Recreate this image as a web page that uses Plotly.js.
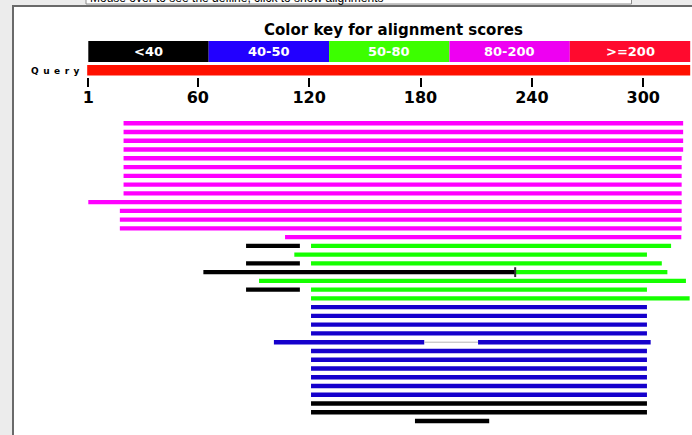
<!DOCTYPE html>
<html><head><meta charset="utf-8">
<script src="https://cdn.plot.ly/plotly-3.0.1.min.js"></script>
<style>html,body{margin:0;padding:0;background:#ececec;overflow:hidden}</style>
</head><body><div id="chart" style="width:692px;height:435px"></div>
<script>
// ---- data ----
const queryLength = 325;
const axisTicks = [1, 60, 120, 180, 240, 300];
const keyLabels = ['<40', '40-50', '50-80', '80-200', '>=200'];
const keyColors = ['#000000', '#2200ff', '#3cff00', '#ee00f2', '#ff0a2e'];
const barColors = ['#000000', '#1500cc', '#15ff00', '#ff00ff', '#ff0000'];
const queryColor = '#ff1000';

// each aligned segment: row, start, end, score class (index into keyLabels)
const hitRow   = [0, 1, 2, 3, 4, 5, 6, 7, 8, 9, 10, 11, 12, 13,
                  14, 14, 15, 16, 16, 17, 17, 18, 19, 19, 20,
                  21, 22, 23, 24, 25, 25, 26, 27, 28, 29, 30, 31,
                  32, 33, 34];
const hitStart = [20, 20, 20, 20, 20, 20, 20, 20, 20, 1, 18, 18, 18, 107,
                  86, 121, 112, 86, 121, 63, 231, 93, 86, 121, 121,
                  121, 121, 121, 121, 101, 211, 121, 121, 121, 121, 121, 121,
                  121, 121, 177];
const hitEnd   = [321.5, 321.5, 321.5, 321.5, 320.7, 320.7, 320.7, 320.7, 320.7, 320.7, 320.7, 320.7, 320.7, 320.5,
                  115, 315, 302, 115, 310, 231, 313, 323, 115, 302, 325,
                  302, 302, 302, 302, 182, 304, 302, 302, 302, 302, 302, 302,
                  302, 302, 217];
const hitClass = [3, 3, 3, 3, 3, 3, 3, 3, 3, 3, 3, 3, 3, 3,
                  0, 2, 2, 0, 2, 0, 2, 2, 0, 2, 2,
                  1, 1, 1, 1, 1, 1, 1, 1, 1, 1, 1, 1,
                  0, 0, 0];
// gap connector between two pieces of one hit
const gapRow = [25], gapStart = [182], gapEnd = [211];
// junction mark between two adjacent pieces
const joinRow = [17], joinPos = [231];

// ---- drawing ----
const W = 692, H = 435;
const py = p => 1 - p / H;
const FONT = 'DejaVu Sans, Verdana, sans-serif';

const traces = [];
keyLabels.forEach((lab, c) => {
  const idx = hitRow.map((r, i) => i).filter(i => hitClass[i] === c);
  if (!idx.length) return;
  traces.push({
    type: 'bar', orientation: 'h', name: lab,
    y: idx.map(i => hitRow[i]),
    base: idx.map(i => hitStart[i]),
    x: idx.map(i => hitEnd[i] - hitStart[i]),
    width: 0.5,
    marker: {color: barColors[c], line: {width: 0}},
    hoverinfo: 'skip'
  });
});
gapRow.forEach((r, i) => traces.push({
  type: 'scatter', mode: 'lines', x: [gapStart[i], gapEnd[i]], y: [r, r],
  line: {color: '#b4b4b4', width: 1}, hoverinfo: 'skip'
}));
traces.push({
  type: 'scatter', mode: 'markers', x: joinPos, y: joinRow,
  marker: {symbol: 'line-ns', size: 7, line: {width: 2, color: '#333333'}}, hoverinfo: 'skip'
});

const shapes = [];
// white panel with frame
shapes.push({type: 'rect', xref: 'paper', yref: 'paper', x0: 13 / W, x1: 1.02, y0: py(6), y1: -0.05,
  fillcolor: '#ffffff', line: {color: '#6a6a6a', width: 2}, layer: 'below'});
// top info box
shapes.push({type: 'rect', xref: 'paper', yref: 'paper', x0: 86 / W, x1: 631.5 / W, y0: py(4), y1: py(-6),
  fillcolor: '#ffffff', line: {color: '#8c8c8c', width: 1}, layer: 'below'});
// color key
const keyStart = 1, keyEnd = queryLength + 0.3;
const keyStep = (keyEnd - keyStart) / keyLabels.length;
keyLabels.forEach((lab, i) => shapes.push({
  type: 'rect', xref: 'x', yref: 'paper', x0: keyStart + i * keyStep, x1: keyStart + (i + 1) * keyStep,
  y0: py(62), y1: py(41), fillcolor: keyColors[i], line: {width: 0}, layer: 'below'
}));
// query bar
shapes.push({type: 'rect', xref: 'x', yref: 'paper', x0: 0.4, x1: queryLength + 0.3,
  y0: py(75.5), y1: py(65), fillcolor: queryColor, line: {width: 0}, layer: 'below'});

const annotations = [];
annotations.push({xref: 'paper', yref: 'paper', x: 393 / W, y: py(30), xanchor: 'center', yanchor: 'middle',
  showarrow: false, text: 'Color key for alignment scores',
  font: {family: FONT, size: 15, weight: 'bold', color: '#000'}});
keyLabels.forEach((lab, i) => annotations.push({
  xref: 'x', yref: 'paper', x: keyStart + (i + 0.5) * keyStep, y: py(51.5), xanchor: 'center', yanchor: 'middle',
  showarrow: false, text: lab.replace('<', '&lt;'), font: {family: FONT, size: 13, weight: 'bold', color: '#ffffff'}
}));
annotations.push({xref: 'paper', yref: 'paper', x: 55.5 / W, y: py(70.5), xanchor: 'center', yanchor: 'middle',
  showarrow: false, text: 'Q\u2002u\u2002e\u2002r\u2002y',
  font: {family: FONT, size: 9, weight: 'bold', color: '#000'}});
annotations.push({xref: 'paper', yref: 'paper', x: 88 / W, y: py(-2), xanchor: 'left', yanchor: 'middle',
  showarrow: false, text: 'Mouse over to see the defline, click to show alignments',
  font: {family: 'Liberation Sans, Arial, sans-serif', size: 12, color: '#000'}});

const xr0 = 1 - 88.3 / 1.856;
const layout = {
  width: W, height: H, margin: {l: 0, r: 0, t: 0, b: 0, pad: 0},
  paper_bgcolor: '#ececec', plot_bgcolor: 'rgba(0,0,0,0)',
  showlegend: false, barmode: 'overlay',
  xaxis: {range: [xr0, xr0 + W / 1.856], anchor: 'free', position: py(77), side: 'bottom',
    ticks: 'outside', ticklen: 9, tickwidth: 2, tickcolor: '#000',
    tickvals: axisTicks, ticktext: axisTicks.map(String), ticklabelstandoff: -3,
    showgrid: false, zeroline: false, showline: false, fixedrange: true,
    tickfont: {family: FONT, size: 16, weight: 'bold', color: '#000'}},
  yaxis: {range: [35.6, -14.08], visible: false, fixedrange: true, showgrid: false, zeroline: false},
  shapes: shapes, annotations: annotations
};
Plotly.newPlot('chart', traces, layout, {staticPlot: true, displayModeBar: false});
</script></body></html>
